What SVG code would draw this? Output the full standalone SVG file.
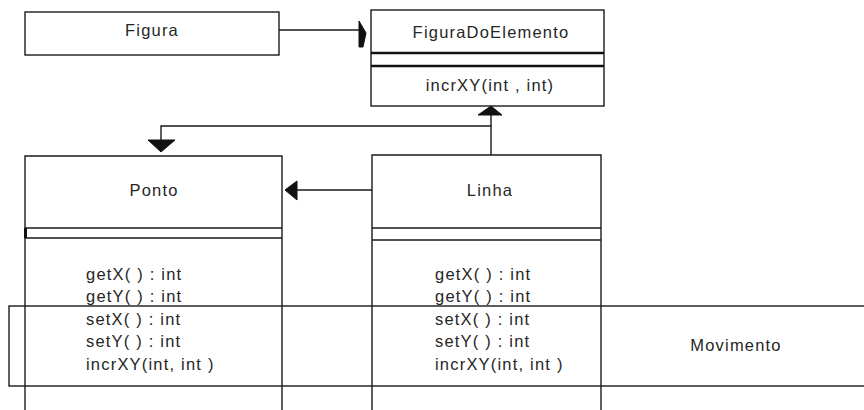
<svg xmlns="http://www.w3.org/2000/svg" width="864" height="410" viewBox="0 0 864 410">
  <style>
    .box { fill: #fff; stroke: #1a1a1a; stroke-width: 1.4; }
    .frame { fill: none; stroke: #1a1a1a; stroke-width: 1.4; }
    .rule { stroke: #1a1a1a; stroke-width: 1.4; }
    .thick { stroke: #111; stroke-width: 2.6; }
    .edge { fill: none; stroke: #1a1a1a; stroke-width: 1.4; }
    .head { fill: #111; stroke: #111; stroke-width: 1; }
    text { font-family: "Liberation Sans", Arial, sans-serif; font-size: 16.5px; fill: #262626; letter-spacing: 1.2px; }
    .c { text-anchor: middle; }
  </style>

  <!-- class Figura -->
  <g id="figura">
    <rect class="box" x="25" y="12" width="254" height="43"/>
    <text class="c" x="152" y="36">Figura</text>
  </g>

  <!-- class FiguraDoElemento -->
  <g id="figuraDoElemento">
    <rect class="box" x="371" y="10" width="233" height="96"/>
    <line class="thick" x1="371" y1="53" x2="604" y2="53"/>
    <line class="thick" x1="371" y1="66" x2="604" y2="66"/>
    <text class="c" x="491" y="38">FiguraDoElemento</text>
    <text class="c" x="490" y="91">incrXY(int , int)</text>
  </g>

  <!-- class Ponto -->
  <g id="ponto">
    <path class="frame" d="M25,420 V156 H282 V420"/>
    <line class="rule" x1="25" y1="228" x2="282" y2="228"/>
    <line class="rule" x1="25" y1="238" x2="282" y2="238"/>
    <rect x="24" y="228" width="3" height="10" fill="#111"/>
    <text class="c" x="154" y="196">Ponto</text>
    <text x="86" y="280">getX( ) : int</text>
    <text x="86" y="302">getY( ) : int</text>
    <text x="86" y="325">setX( ) : int</text>
    <text x="86" y="347">setY( ) : int</text>
    <text x="86" y="370">incrXY(int, int )</text>
  </g>

  <!-- class Linha -->
  <g id="linha">
    <path class="frame" d="M372,420 V155 H601 V420"/>
    <line class="rule" x1="372" y1="228" x2="601" y2="228"/>
    <line class="rule" x1="372" y1="240" x2="601" y2="240"/>
    <text class="c" x="490" y="196">Linha</text>
    <text x="435" y="280">getX( ) : int</text>
    <text x="435" y="302">getY( ) : int</text>
    <text x="435" y="325">setX( ) : int</text>
    <text x="435" y="347">setY( ) : int</text>
    <text x="435" y="370">incrXY(int, int )</text>
  </g>

  <!-- class Movimento (outline drawn over the others) -->
  <g id="movimento">
    <rect class="frame" x="9" y="306" width="870" height="80"/>
    <text class="c" x="736" y="351">Movimento</text>
  </g>

  <!-- connectors -->
  <g id="connectors">
    <!-- Figura to FiguraDoElemento -->
    <line class="edge" x1="279" y1="30" x2="360" y2="30"/>
    <path class="head" d="M359,21 L366,33 L363,47 L359,47 Z"/>
    <!-- Linha up to FiguraDoElemento, with branch to Ponto -->
    <polyline class="edge" points="491,155 491,126 161,126 161,145"/>
    <line class="edge" x1="491" y1="126" x2="491" y2="112"/>
    <path class="head" d="M491,106 L502,115 L478,115 Z"/>
    <path class="head" d="M161,152 L148,140 L175,140 Z"/>
    <!-- Linha to Ponto -->
    <line class="edge" x1="372" y1="190" x2="296" y2="190"/>
    <path class="head" d="M285,190 L297,181 L297,200 Z"/>
  </g>
</svg>
